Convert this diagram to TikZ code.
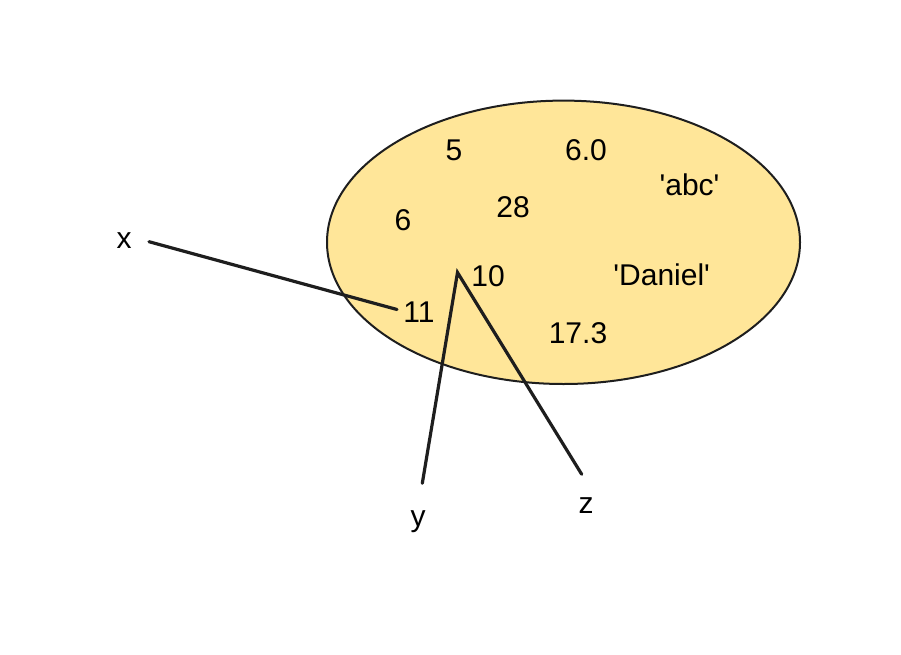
\documentclass[tikz,border=0pt]{standalone}
\usepackage{fontspec}
\setmainfont{Liberation Sans}
\definecolor{setfill}{HTML}{FFE699}
\definecolor{ink}{HTML}{1E1E1E}
\newcommand{\sq}{\textquotesingle}
\begin{document}
\begin{tikzpicture}[x=1pt,y=-1pt,
  val/.style={anchor=base,inner sep=0pt,font=\fontsize{30}{35}\selectfont,text=black},
  ref/.style={draw=ink,line width=3.2pt,line cap=round},
  setshape/.style={fill=setfill,draw=ink,line width=2pt}]
  \useasboundingbox (0,0) rectangle (901,655);
  % the set of objects
  \draw[setshape] (563.5,242.3) ellipse [x radius=236.5, y radius=141.7];
  % objects inside the set
  \node[val] (v5)      at (454,160.7) {5};
  \node[val] (v60)     at (586,160.7) {6.0};
  \node[val] (vabc)    at (689.5,195) {\sq abc\sq};
  \node[val] (v6)      at (403,230) {6};
  \node[val] (v28)     at (513,217) {28};
  \node[val] (v10)     at (488,286) {10};
  \node[val] (vdaniel) at (661.7,285) {\sq Daniel\sq};
  \node[val] (v11)     at (419,322.7) {11};
  \node[val] (v173)    at (578,343) {17.3};
  % variable names
  \node[val] (nx) at (124,248.3) {x};
  \node[val] (ny) at (418,526.7) {y};
  \node[val] (nz) at (586,513) {z};
  % reference end points
  \coordinate (xs) at (149,241.7);
  \coordinate (xe) at (397,309.5);
  \coordinate (ys) at (422.3,483.3);
  \coordinate (zs) at (581.7,474.3);
  \coordinate (apex) at (457.5,272.5);
  % references from names to objects
  \draw[ref] (xs) -- (xe);
  \draw[ref] (ys) -- (apex) -- (zs);
\end{tikzpicture}
\end{document}
